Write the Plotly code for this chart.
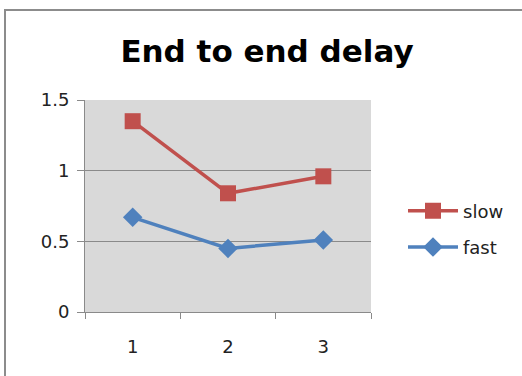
import plotly.graph_objects as go

# Data
categories = ["1", "2", "3"]
slow = [1.35, 0.84, 0.96]
fast = [0.67, 0.45, 0.51]
y_ticks = [0, 0.5, 1, 1.5]

RED = "#c0504d"
BLUE = "#4f81bd"
GRID = "#8a8a8a"
FONT = "DejaVu Sans, Liberation Sans, sans-serif"

fig = go.Figure()
fig.add_trace(go.Scatter(
    x=categories, y=slow, name="slow", mode="lines+markers",
    line=dict(color=RED, width=3.5),
    marker=dict(symbol="square", size=16, color=RED),
    legendgroup="slow",
))
fig.add_trace(go.Scatter(
    x=categories, y=fast, name="fast", mode="lines+markers",
    line=dict(color=BLUE, width=3.5),
    marker=dict(symbol="diamond", size=15, color=BLUE),
    legendgroup="fast",
))

L, R, T, B = 85, 151, 100, 64
W, H = 522, 376
pw, ph = W - L - R, H - T - B

# outer chart frame
fig.add_shape(
    type="rect", xref="paper", yref="paper",
    x0=(5 - L) / pw, x1=(540 - L) / pw,
    y0=(T + ph - 400) / ph, y1=(T + ph - 10) / ph,
    line=dict(color="#8c8c8c", width=2), fillcolor="rgba(0,0,0,0)",
    layer="below",
)

tick_font = dict(family=FONT, size=18, color="#222222")

fig.update_layout(
    width=W, height=H,
    margin=dict(l=L, r=R, t=T, b=B),
    paper_bgcolor="white",
    plot_bgcolor="#d9d9d9",
    font=tick_font,
    title=dict(
        text="<b>End to end delay</b>",
        x=(267) / W, xanchor="center",
        y=1 - 51 / H, yanchor="middle",
        font=dict(family=FONT, size=31, color="black"),
    ),
    showlegend=True,
    legend=dict(
        x=(403 - L) / pw, xanchor="left",
        y=(T + ph - 229) / ph, yanchor="middle",
        bgcolor="rgba(0,0,0,0)",
        font=tick_font,
        tracegroupgap=10,
        itemwidth=50,
    ),
    xaxis=dict(
        type="category",
        tickson="boundaries",
        range=[-0.5, 2.5],
        showgrid=False,
        showline=True, linecolor=GRID, linewidth=1,
        ticks="outside", ticklen=6, tickcolor=GRID,
        ticklabelstandoff=18,
        tickfont=tick_font,
        zeroline=False,
        fixedrange=True,
    ),
    yaxis=dict(
        range=[0, 1.5],
        tickvals=y_ticks,
        showgrid=True, gridcolor=GRID, gridwidth=1,
        showline=True, linecolor=GRID, linewidth=1,
        ticks="outside", ticklen=7, tickcolor=GRID,
        ticklabelstandoff=4,
        tickfont=tick_font,
        zeroline=False,
        fixedrange=True,
    ),
)

fig.write_html("out.html")
